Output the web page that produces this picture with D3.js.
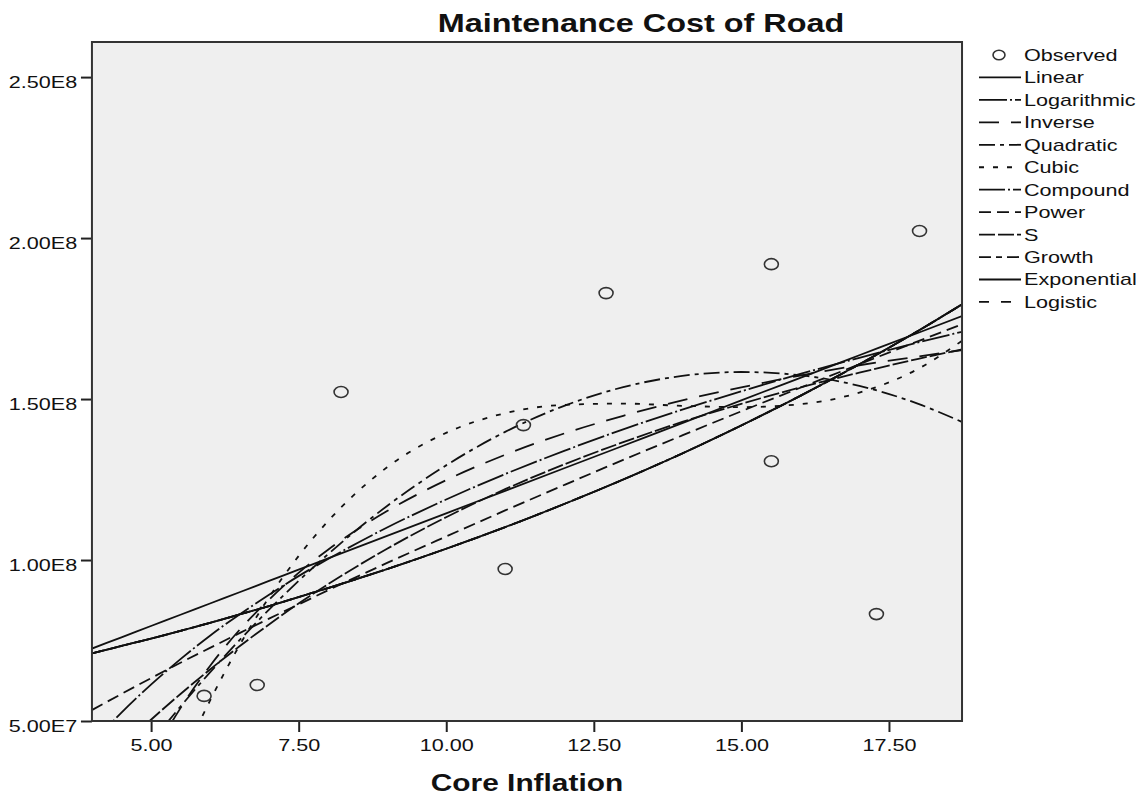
<!DOCTYPE html>
<html>
<head>
<meta charset="utf-8">
<script src="https://cdn.jsdelivr.net/npm/d3@7/dist/d3.min.js"></script>
<style>
body { margin: 0; background: #fff; }
svg text { font-family: "Liberation Sans", Arial, sans-serif; fill: #111; }
</style>
</head>
<body>
<div id="chart"></div>
<script>
// values in units of 1E8
var xTicks = [5, 7.5, 10, 12.5, 15, 17.5];
var xTickLabels = ["5.00", "7.50", "10.00", "12.50", "15.00", "17.50"];
var yTicks = [0.5, 1.0, 1.5, 2.0, 2.5];
var yTickLabels = ["5.00E7", "1.00E8", "1.50E8", "2.00E8", "2.50E8"];

var observedX = [5.90, 6.80, 8.22, 11.00, 11.31, 12.71, 15.51, 15.51, 17.29, 18.02];
var observedY = [0.578, 0.612, 1.522, 0.972, 1.419, 1.829, 1.919, 1.307, 0.832, 2.022];

var fitX = [4, 4.5, 5, 5.5, 6, 6.5, 7, 7.5, 8, 9, 10, 11, 12, 13, 14, 15, 16, 17, 18, 18.74];
var linearFit = [0.725, 0.760, 0.795, 0.830, 0.865, 0.900, 0.935, 0.970, 1.005, 1.075, 1.145, 1.215, 1.285, 1.355, 1.425, 1.496, 1.566, 1.636, 1.706, 1.758];
var logarithmicFit = [0.428, 0.526, 0.613, 0.692, 0.765, 0.831, 0.892, 0.950, 1.003, 1.101, 1.188, 1.267, 1.339, 1.406, 1.467, 1.524, 1.578, 1.628, 1.676, 1.709];
var inverseFit = [-0.050, 0.191, 0.383, 0.540, 0.671, 0.783, 0.877, 0.960, 1.032, 1.152, 1.248, 1.327, 1.393, 1.448, 1.496, 1.536, 1.573, 1.605, 1.632, 1.652];
var quadraticFit = [0.193, 0.316, 0.433, 0.545, 0.651, 0.751, 0.846, 0.935, 1.018, 1.168, 1.294, 1.398, 1.479, 1.537, 1.572, 1.584, 1.574, 1.541, 1.485, 1.429];
var cubicFit = [-0.377, -0.101, 0.147, 0.368, 0.563, 0.735, 0.884, 1.012, 1.121, 1.288, 1.395, 1.456, 1.482, 1.486, 1.479, 1.475, 1.484, 1.520, 1.594, 1.681];
var compoundFit = [0.710, 0.733, 0.756, 0.780, 0.805, 0.831, 0.857, 0.885, 0.913, 0.972, 1.035, 1.102, 1.174, 1.250, 1.331, 1.418, 1.510, 1.608, 1.712, 1.794];
var powerFit = [0.534, 0.584, 0.633, 0.681, 0.727, 0.773, 0.818, 0.862, 0.906, 0.991, 1.073, 1.154, 1.233, 1.311, 1.387, 1.462, 1.535, 1.608, 1.680, 1.732];
var sFit = [0.336, 0.421, 0.504, 0.584, 0.660, 0.732, 0.800, 0.865, 0.925, 1.035, 1.133, 1.220, 1.297, 1.366, 1.429, 1.485, 1.536, 1.582, 1.625, 1.654];
var growthFit = [0.710, 0.733, 0.756, 0.780, 0.805, 0.831, 0.857, 0.885, 0.913, 0.972, 1.035, 1.102, 1.174, 1.250, 1.331, 1.418, 1.510, 1.608, 1.712, 1.794];
var exponentialFit = [0.710, 0.733, 0.756, 0.780, 0.805, 0.831, 0.857, 0.885, 0.913, 0.972, 1.035, 1.102, 1.174, 1.250, 1.331, 1.418, 1.510, 1.608, 1.712, 1.794];
var logisticFit = [0.710, 0.733, 0.756, 0.780, 0.805, 0.831, 0.857, 0.885, 0.913, 0.972, 1.035, 1.102, 1.174, 1.250, 1.331, 1.418, 1.510, 1.608, 1.712, 1.794];

var fitNames = ["Linear", "Logarithmic", "Inverse", "Quadratic", "Cubic", "Compound", "Power", "S", "Growth", "Exponential", "Logistic"];
var fitValues = [linearFit, logarithmicFit, inverseFit, quadraticFit, cubicFit, compoundFit, powerFit, sFit, growthFit, exponentialFit, logisticFit];

// line styles, same order as fitNames
var fitDashes = ["none", "28,3,2,3", "20,12", "16,5,4,5", "5,9", "26,3,2,3", "12,6", "16,3", "12,5,6,5", "none", "10,12"];

var W = 1143, H = 796;
var stretch = 1.27;   // the original picture is wider than tall
var plot = { left: 72.4, right: 757.5, top: 42, bottom: 721 };

var svg = d3.select("#chart")
    .append("svg")
    .attr("width", W)
    .attr("height", H)
    .attr("viewBox", "0 0 " + (W / stretch) + " " + H)
    .attr("preserveAspectRatio", "none");

var x = d3.scaleLinear().domain([4, 18.74]).range([plot.left, plot.right]);
var y = d3.scaleLinear().domain([0.5, 2.609]).range([plot.bottom, plot.top]);

svg.append("rect")
    .attr("x", plot.left).attr("y", plot.top)
    .attr("width", plot.right - plot.left)
    .attr("height", plot.bottom - plot.top)
    .attr("fill", "#efefef");

svg.append("clipPath").attr("id", "plot-clip")
    .append("rect")
    .attr("x", plot.left).attr("y", plot.top)
    .attr("width", plot.right - plot.left)
    .attr("height", plot.bottom - plot.top);

var line = d3.line()
    .x(function(d, i) { return x(fitX[i]); })
    .y(function(d) { return y(d); })
    .curve(d3.curveMonotoneX);

var curves = svg.append("g").attr("clip-path", "url(#plot-clip)");

fitValues.forEach(function(vals, i) {
    curves.append("path")
        .attr("d", line(vals))
        .attr("fill", "none")
        .attr("stroke", "#111")
        .attr("stroke-width", 1.8)
        .attr("stroke-dasharray", fitDashes[i])
        .attr("vector-effect", "non-scaling-stroke");
});

svg.append("g")
    .selectAll("ellipse")
    .data(observedX)
    .enter()
    .append("ellipse")
    .attr("cx", function(d) { return x(d); })
    .attr("cy", function(d, i) { return y(observedY[i]); })
    .attr("rx", 5.5)
    .attr("ry", 5.5)
    .attr("fill", "none")
    .attr("stroke", "#333")
    .attr("stroke-width", 1.6)
    .attr("vector-effect", "non-scaling-stroke");

// axes
var xAxis = svg.append("g")
    .attr("transform", "translate(0," + plot.bottom + ")")
    .call(d3.axisBottom(x)
        .tickValues(xTicks)
        .tickFormat(function(d, i) { return xTickLabels[i]; })
        .tickSize(11)
        .tickPadding(7));

var yAxis = svg.append("g")
    .attr("transform", "translate(" + plot.left + ",0)")
    .call(d3.axisLeft(y)
        .tickValues(yTicks)
        .tickFormat(function(d, i) { return yTickLabels[i]; })
        .tickSize(11 / stretch)
        .tickPadding(3));

[xAxis, yAxis].forEach(function(ax) {
    ax.select(".domain").remove();
    ax.selectAll("line")
        .attr("stroke", "#222")
        .attr("stroke-width", 2)
        .attr("vector-effect", "non-scaling-stroke");
    ax.selectAll("text")
        .attr("font-size", 17)
        .attr("font-family", null)
        .attr("fill", "#111");
});
yAxis.selectAll("text").attr("dy", "0.6em");

svg.append("rect")
    .attr("x", plot.left).attr("y", plot.top)
    .attr("width", plot.right - plot.left)
    .attr("height", plot.bottom - plot.top)
    .attr("fill", "none")
    .attr("stroke", "#333")
    .attr("stroke-width", 2)
    .attr("vector-effect", "non-scaling-stroke");

svg.append("text")
    .text("Maintenance Cost of Road")
    .attr("x", 641 / stretch)
    .attr("y", 32)
    .attr("text-anchor", "middle")
    .attr("font-size", 25.5)
    .attr("font-weight", "bold");

svg.append("text")
    .text("Core Inflation")
    .attr("x", (plot.left + plot.right) / 2)
    .attr("y", 791)
    .attr("text-anchor", "middle")
    .attr("font-size", 23.5)
    .attr("font-weight", "bold");

// legend
function generateLegend() {
    var legend = svg.append("g");
    var rowY = function(i) { return 55 + i * 22.45; };
    var lineX1 = 979 / stretch, lineX2 = 1021 / stretch, textX = 1024 / stretch;

    legend.append("ellipse")
        .attr("cx", 999 / stretch)
        .attr("cy", rowY(0))
        .attr("rx", 4.7)
        .attr("ry", 4.7)
        .attr("fill", "none")
        .attr("stroke", "#333")
        .attr("stroke-width", 1.6)
        .attr("vector-effect", "non-scaling-stroke");

    legend.append("text")
        .text("Observed")
        .attr("x", textX)
        .attr("y", rowY(0) + 6)
        .attr("font-size", 17);

    fitNames.forEach(function(name, i) {
        legend.append("line")
            .attr("x1", lineX1).attr("x2", lineX2)
            .attr("y1", rowY(i + 1)).attr("y2", rowY(i + 1))
            .attr("stroke", "#111")
            .attr("stroke-width", 1.8)
            .attr("stroke-dasharray", fitDashes[i])
            .attr("vector-effect", "non-scaling-stroke");

        legend.append("text")
            .text(name)
            .attr("x", textX)
            .attr("y", rowY(i + 1) + 6)
            .attr("font-size", 17);
    });
}

generateLegend();
</script>
</body>
</html>
